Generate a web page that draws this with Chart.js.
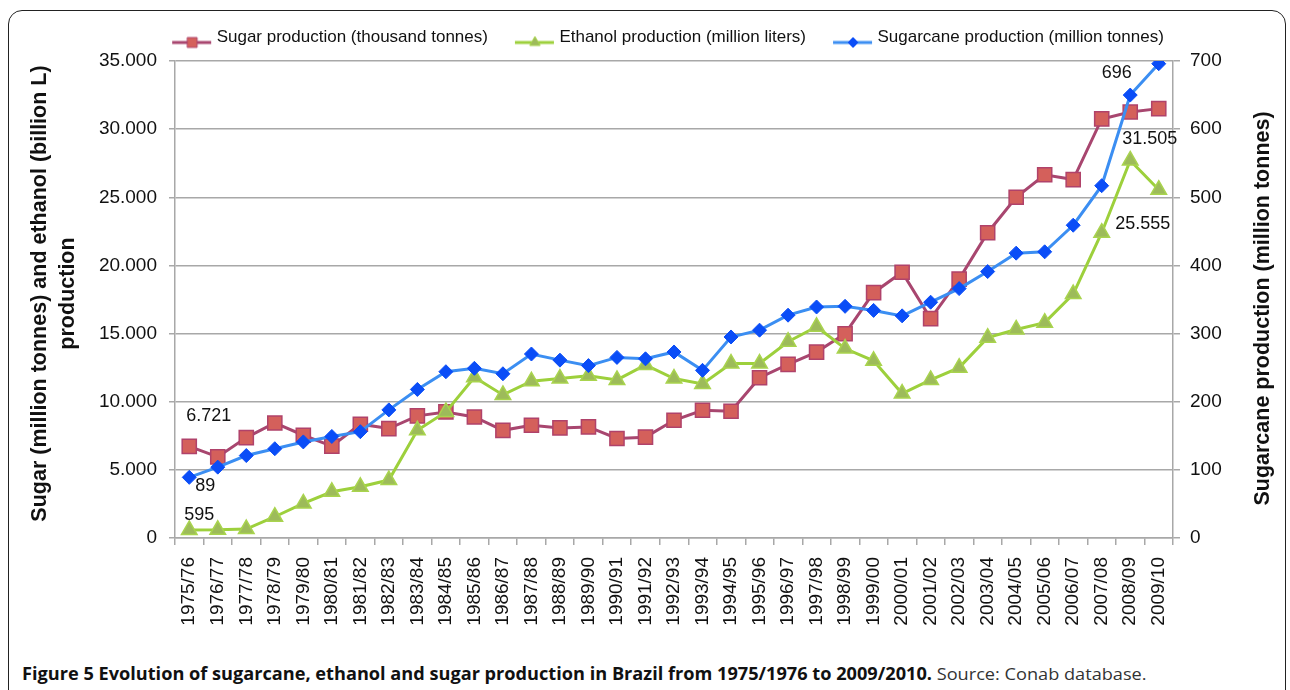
<!DOCTYPE html>
<html>
<head>
<meta charset="utf-8">
<script src="https://cdn.jsdelivr.net/npm/chart.js@4"></script>
<style>
    html, body { margin: 0; padding: 0; background: #fff; }
    body { width: 1290px; height: 690px; position: relative; overflow: hidden; font-family: "Liberation Sans", Arial, sans-serif; }
    #frame {
        position: absolute; left: 8px; top: 10px; width: 1278px; height: 720px;
        border: 1.5px solid #222; border-radius: 14px; box-sizing: border-box;
    }
    #chartBox { position: absolute; left: 0; top: 0; width: 1290px; height: 650px; }
    #caption {
        position: absolute; left: 22px; top: 662px; white-space: nowrap;
        font-family: "Liberation Sans Narrow", "Open Sans", sans-serif; font-size: 17px; color: #111;
        transform-origin: 0 0;
    }
    #caption b { font-weight: bold; }
    #caption span { font-weight: normal; color: #333; }
</style>
</head>
<body>
<div id="frame"></div>
<div id="chartBox"><canvas id="chart" width="1290" height="650"></canvas></div>
<div id="caption"><b>Figure 5 Evolution of sugarcane, ethanol and sugar production in Brazil from 1975/1976 to 2009/2010.</b> <span>Source: Conab database.</span></div>
<script>
// Harvest years
const seasons = [
    "1975/76", "1976/77", "1977/78", "1978/79", "1979/80", "1980/81", "1981/82",
    "1982/83", "1983/84", "1984/85", "1985/86", "1986/87", "1987/88", "1988/89",
    "1989/90", "1990/91", "1991/92", "1992/93", "1993/94", "1994/95", "1995/96",
    "1996/97", "1997/98", "1998/99", "1999/00", "2000/01", "2001/02", "2002/03",
    "2003/04", "2004/05", "2005/06", "2006/07", "2007/08", "2008/09", "2009/10"
];

// Sugar production (thousand tonnes) - left axis
const sugar = [
    6721, 5950, 7370, 8440, 7540, 6740, 8350, 8030, 8960, 9250, 8880, 7900,
    8270, 8080, 8150, 7300, 7400, 8640, 9370, 9300, 11760, 12740, 13640, 14990,
    18000, 19500, 16100, 19000, 22400, 25000, 26650, 26300, 30750, 31260, 31505
];

// Ethanol production (million liters) - left axis
const ethanol = [
    595, 600, 660, 1560, 2540, 3390, 3760, 4250, 7900, 9250, 11800, 10500,
    11500, 11700, 11900, 11600, 12700, 11700, 11300, 12800, 12800, 14400, 15500, 13900,
    13000, 10600, 11600, 12500, 14700, 15300, 15800, 17900, 22400, 27700, 25555
];

// Sugarcane production (million tonnes) - right axis
const sugarcane = [
    89, 104, 121, 131, 141, 149, 156, 188, 218, 244, 249, 241,
    270, 261, 253, 265, 263, 273, 246, 295, 305, 327, 339, 340,
    334, 326, 346, 366, 391, 418, 420, 459, 517, 650, 696
];

const leftTicks = { min: 0, max: 35000, step: 5000 };
const rightTicks = { min: 0, max: 700, step: 100 };
const leftTitle = ["Sugar (million tonnes) and ethanol (billion L)", "production"];
const rightTitle = "Sugarcane production (million tonnes)";

// Value labels written next to some points: dataset index, point index, offset
const callouts = [
    { ds: 0, i: 0, dx: -3, dy: -30, align: "left" },
    { ds: 2, i: 0, dx: 16, dy: 9, align: "center" },
    { ds: 1, i: 0, dx: 10, dy: -15, align: "center" },
    { ds: 2, i: 34, dx: -42, dy: 9, align: "center" },
    { ds: 0, i: 34, dx: -9, dy: 30, align: "center" },
    { ds: 1, i: 34, dx: -16, dy: 34, align: "center" },
];

const fmt = (v) => v.toLocaleString("de-DE");
const FONT = "'Liberation Sans', Arial, sans-serif";

// Small line + marker pictures for the legend (drawn a bit low in the picture
// so they line up with the legend text)
function legendIcon(lineColor, style, fill, stroke, r) {
    const c = document.createElement("canvas");
    c.width = 60;
    c.height = 30;
    const g = c.getContext("2d");
    g.strokeStyle = lineColor;
    g.lineWidth = 3;
    g.beginPath();
    g.moveTo(14, 20);
    g.lineTo(53, 20);
    g.stroke();
    g.fillStyle = fill;
    g.strokeStyle = stroke;
    g.lineWidth = 1;
    Chart.helpers.drawPoint(g, { pointStyle: style, radius: r, borderWidth: 1 }, 34, 20);
    return c;
}

const colors = {
    sugarLine: "#a8466f", sugarFill: "#d4605b", sugarEdge: "#b0426a",
    ethLine: "#9dd03c", ethFill: "#9dbb5a", ethEdge: "#a9d44e",
    caneLine: "#3b8ef2", caneFill: "#0a4df7", caneEdge: "#0a4df7",
};

const icons = [
    legendIcon(colors.sugarLine, "rect", colors.sugarFill, colors.sugarEdge, 7),
    legendIcon(colors.ethLine, "triangle", colors.ethFill, colors.ethEdge, 6),
    legendIcon(colors.caneLine, "rectRot", colors.caneFill, colors.caneEdge, 5),
];

const calloutPlugin = {
    id: "callouts",
    afterDatasetsDraw(chart) {
        const ctx = chart.ctx;
        ctx.save();
        ctx.font = "18px " + FONT;
        ctx.fillStyle = "#111";
        ctx.textBaseline = "middle";
        callouts.forEach((c) => {
            const pt = chart.getDatasetMeta(c.ds).data[c.i];
            const val = chart.data.datasets[c.ds].data[c.i];
            ctx.textAlign = c.align;
            ctx.fillText(fmt(val), pt.x + c.dx, pt.y + c.dy);
        });
        ctx.restore();
    },
};

// Both axis titles read bottom-to-top
function drawVertical(ctx, text, x, y) {
    ctx.save();
    ctx.translate(x, y);
    ctx.rotate(-Math.PI / 2);
    ctx.fillText(text, 0, 0);
    ctx.restore();
}

const axisTitlePlugin = {
    id: "axisTitles",
    afterDraw(chart) {
        const ctx = chart.ctx;
        const area = chart.chartArea;
        const midY = (area.top + area.bottom) / 2;
        ctx.save();
        ctx.font = "bold 21.5px " + FONT;
        ctx.fillStyle = "#111";
        ctx.textAlign = "center";
        ctx.textBaseline = "middle";
        drawVertical(ctx, leftTitle[0], area.left - 135, midY - 6);
        drawVertical(ctx, leftTitle[1], area.left - 107, midY - 6);
        drawVertical(ctx, rightTitle, chart.scales.y1.right - 27, midY + 9);
        ctx.restore();
    },
};

const tickFont = { family: FONT, size: 19 };
const gridColor = "#a8a8a8";

new Chart(document.getElementById("chart"), {
    type: "line",
    data: {
        labels: seasons,
        datasets: [
            {
                label: "Sugar production (thousand tonnes)",
                data: sugar,
                xAxisID: "x",
                yAxisID: "y",
                order: 3,
                borderColor: colors.sugarLine,
                borderWidth: 3,
                pointStyle: "rect",
                pointRadius: 10,
                pointBackgroundColor: colors.sugarFill,
                pointBorderColor: colors.sugarEdge,
                pointBorderWidth: 1.5,
                tension: 0,
            },
            {
                label: "Ethanol production (million liters)",
                data: ethanol,
                xAxisID: "x",
                yAxisID: "y",
                order: 2,
                borderColor: colors.ethLine,
                borderWidth: 3,
                pointStyle: "triangle",
                pointRadius: 9,
                pointBackgroundColor: colors.ethFill,
                pointBorderColor: colors.ethEdge,
                pointBorderWidth: 1.5,
                tension: 0,
            },
            {
                label: "Sugarcane production (million tonnes)",
                data: sugarcane,
                xAxisID: "x",
                yAxisID: "y1",
                order: 1,
                borderColor: colors.caneLine,
                borderWidth: 3,
                pointStyle: "rectRot",
                pointRadius: 7,
                pointBackgroundColor: colors.caneFill,
                pointBorderColor: colors.caneEdge,
                pointBorderWidth: 1,
                tension: 0,
            },
        ],
    },
    options: {
        responsive: false,
        animation: false,
        devicePixelRatio: 1,
        layout: { padding: { left: 42, right: 0, top: 6, bottom: 0 } },
        plugins: {
            tooltip: { enabled: false },
            legend: {
                position: "top",
                labels: {
                    usePointStyle: true,
                    pointStyleWidth: 40,
                    generateLabels(chart) {
                        return chart.data.datasets.map((ds, i) => ({
                            text: ds.label,
                            pointStyle: icons[i],
                            datasetIndex: i,
                            fontColor: "#111",
                            lineWidth: 0,
                            strokeStyle: "transparent",
                            fillStyle: "transparent",
                        }));
                    },
                    font: { family: FONT, size: 17 },
                    color: "#111",
                    padding: 23,
                },
            },
        },
        scales: {
            x: {
                type: "category",
                offset: true,
                grid: { offset: true, drawOnChartArea: false, color: gridColor, lineWidth: 1.5, tickLength: 7 },
                border: { color: gridColor, width: 1.5 },
                ticks: { font: tickFont, color: "#111", minRotation: 90, maxRotation: 90, autoSkip: false, padding: 12 },
                afterFit(scale) { scale.height = 650 - 538; },
            },
            // empty band between the legend and the plot
            gap: {
                type: "category",
                position: "top",
                grid: { display: false },
                border: { display: false },
                ticks: { display: false },
                afterFit(scale) { scale.height = 5; },
            },
            y: {
                position: "left",
                min: leftTicks.min,
                max: leftTicks.max,
                ticks: { stepSize: leftTicks.step, font: tickFont, color: "#111", padding: 12, callback: (v) => fmt(v) },
                grid: { color: gridColor, lineWidth: 1.5, tickLength: 6 },
                border: { color: gridColor, width: 1.5 },
                afterFit(scale) { scale.width = 175 - 42; },
            },
            y1: {
                position: "right",
                min: rightTicks.min,
                max: rightTicks.max,
                ticks: { stepSize: rightTicks.step, font: tickFont, color: "#111", padding: 10 },
                grid: { drawOnChartArea: false, color: gridColor, lineWidth: 1.5, tickLength: 7 },
                border: { color: gridColor, width: 1.5 },
                afterFit(scale) { scale.width = 1290 - 1173; },
            },
        },
    },
    plugins: [calloutPlugin, axisTitlePlugin],
});

// Fit caption to its width in the reference
const cap = document.getElementById("caption");
cap.style.transform = "scaleX(" + (1125 / cap.scrollWidth) + ")";
</script>
</body>
</html>
